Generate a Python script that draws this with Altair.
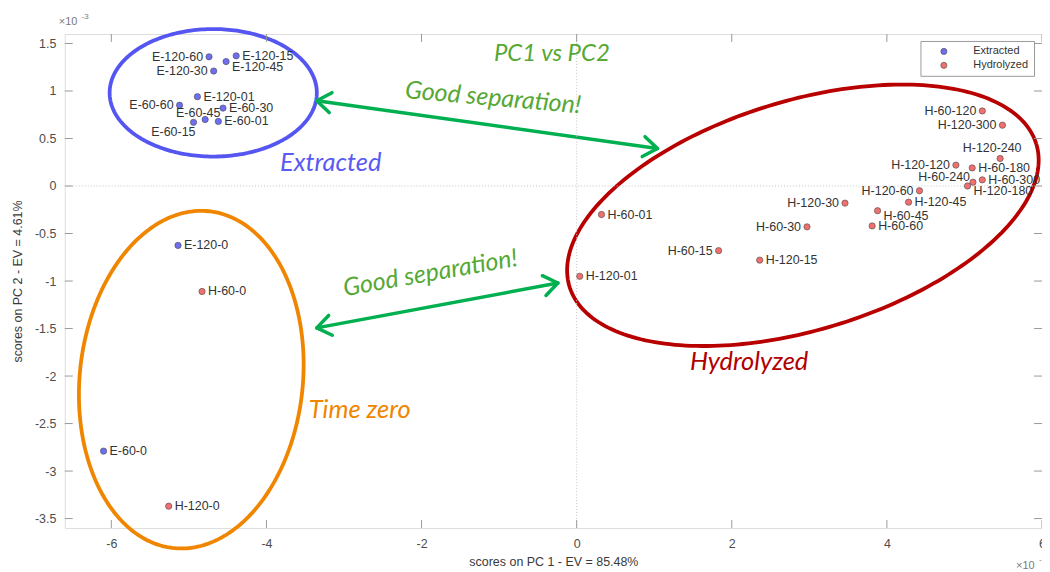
import numpy as np
import pandas as pd
import altair as alt

# ---------------- data (scores ×1e-3) ----------------
samples = ["E-120-60", "E-120-15", "E-120-45", "E-120-30", "E-120-01",
           "E-60-60", "E-60-30", "E-60-45", "E-60-15", "E-60-01",
           "E-120-0", "E-60-0", "H-60-0", "H-120-0",
           "H-120-01", "H-60-01", "H-60-15", "H-120-15", "H-60-30", "H-120-30",
           "H-60-45", "H-60-60", "H-120-45", "H-120-60", "H-120-120", "H-60-180",
           "H-120-180", "H-60-240", "H-60-300", "H-120-240", "H-60-120", "H-120-300"]
groups = (["Extracted"] * 12) + (["Hydrolyzed"] * 20)
groups[12] = "Hydrolyzed"
groups[13] = "Hydrolyzed"
pc1 = [-4.74, -4.39, -4.52, -4.68, -4.89,
       -5.12, -4.56, -4.79, -4.94, -4.62,
       -5.14, -6.10, -4.83, -5.26,
       0.04, 0.32, 1.83, 2.36, 2.97, 3.46,
       3.88, 3.81, 4.28, 4.42, 4.89, 5.10,
       5.04, 5.11, 5.23, 5.46, 5.23, 5.49]
pc2 = [1.36, 1.37, 1.31, 1.21, 0.94,
       0.85, 0.82, 0.70, 0.67, 0.68,
       -0.625, -2.79, -1.11, -3.37,
       -0.95, -0.30, -0.68, -0.78, -0.43, -0.18,
       -0.26, -0.42, -0.17, -0.05, 0.22, 0.19,
       0.00, 0.04, 0.065, 0.29, 0.79, 0.64]
label_side = ["l", "r", "rb", "l", "r",
              "l", "r", "al", "bl", "r",
              "r", "r", "r", "r",
              "r", "r", "l", "r", "l", "l",
              "rb", "r", "r", "l", "l", "r",
              "rb", "la", "r", "a", "l", "l"]

group_names = ["Extracted", "Hydrolyzed"]
x_ticks = [-6, -4, -2, 0, 2, 4, 6]
y_ticks = [1.5, 1, 0.5, 0, -0.5, -1, -1.5, -2, -2.5, -3, -3.5]

df = pd.DataFrame({"sample": samples, "group": groups, "pc1": pc1, "pc2": pc2, "side": label_side})

# ---------------- layout ----------------
W, H = 981, 496
XMIN, XMAX, YMIN, YMAX = -6.6, 6.0, -3.6, 1.6
PXX = W / (XMAX - XMIN)
PXY = H / (YMAX - YMIN)
FONT = "Liberation Sans"
AX_COL = "#9a9a9a"

xscale = alt.Scale(domain=[XMIN, XMAX], nice=False, zero=False)
yscale = alt.Scale(domain=[YMIN, YMAX], nice=False, zero=False)
xaxis = alt.Axis(title="scores on PC 1 - EV = 85.48%", values=x_ticks, labelExpr="datum.value + ''",
                 grid=False, ticks=False, domain=False, labelPadding=10, labelFlush=False,
                 labelFont=FONT, labelFontSize=12.5, labelColor="#4d4d4d",
                 titleFont=FONT, titleFontSize=12.5, titleColor="#3a3a3a", titleFontWeight="normal",
                 titleY=34, titleBaseline="middle")
yaxis = alt.Axis(title="scores on PC 2 - EV = 4.61%", values=y_ticks, labelExpr="datum.value + ''",
                 grid=False, ticks=False, domain=False, labelPadding=9, labelFlush=False,
                 labelFont=FONT, labelFontSize=12.5, labelColor="#4d4d4d",
                 titleFont=FONT, titleFontSize=12.5, titleColor="#3a3a3a", titleFontWeight="normal",
                 titleX=-47, titleY=H / 2, titleBaseline="middle")


def X(f):
    return alt.X(f, type="quantitative", scale=xscale, axis=xaxis)


def Y(f):
    return alt.Y(f, type="quantitative", scale=yscale, axis=yaxis)


layers = []

# ---------------- ellipses (annotation shapes) ----------------
def ellipse(cx, cy, a_px, b_px, phi_deg, color):
    t = np.linspace(0, 2 * np.pi, 240)
    phi = np.deg2rad(phi_deg)
    u, v = a_px * np.cos(t), b_px * np.sin(t)
    dx = u * np.cos(phi) - v * np.sin(phi)
    dy = u * np.sin(phi) + v * np.cos(phi)
    e = pd.DataFrame({"ex": cx + dx / PXX, "ey": cy + dy / PXY, "i": np.arange(len(t))})
    return alt.Chart(e).mark_line(color=color, strokeWidth=3.8, clip=False).encode(
        x=X("ex"), y=Y("ey"), order="i:Q")


layers.append(ellipse(-4.686, 0.981, 104, 64, 0, "#5555f2"))
layers.append(ellipse(-4.969, -2.038, 170, 112, 84, "#f08500"))
layers.append(ellipse(2.917, -0.308, 245, 115, 17, "#b80000"))

# ---------------- arrows ----------------
GREEN = "#00b050"
arrows = pd.DataFrame({"x1": [-3.351, -3.351], "y1": [0.898, -1.493],
                       "x2": [1.042, -0.242], "y2": [0.394, -1.021]})
layers.append(alt.Chart(arrows).mark_rule(color=GREEN, strokeWidth=3.5, strokeCap="round").encode(
    x=X("x1"), y=Y("y1"), x2="x2", y2="y2"))
head_shape = "M -1 -0.72 L 0 0 L -1 0.72"
for hx, hy, ang in [(-3.351, 0.898, 188), (1.042, 0.394, 8), (-3.351, -1.493, 169.5), (-0.242, -1.021, 349.5)]:
    layers.append(alt.Chart(pd.DataFrame({"hx": [hx], "hy": [hy]})).mark_point(
        shape=head_shape, filled=False, size=784, angle=ang, color=GREEN, strokeWidth=3.5,
        strokeCap="round", strokeJoin="round", opacity=1, clip=False).encode(x=X("hx"), y=Y("hy")))

# ---------------- zero lines ----------------
layers.append(alt.Chart(pd.DataFrame({"v": [0]})).mark_rule(color="#c4c4c4", strokeDash=[1, 2], strokeWidth=1).encode(x=X("v")))
layers.append(alt.Chart(pd.DataFrame({"v": [0]})).mark_rule(color="#c4c4c4", strokeDash=[1, 2], strokeWidth=1).encode(y=Y("v")))

# ---------------- inward ticks ----------------
xt = pd.DataFrame({"v": x_ticks})
yt = pd.DataFrame({"v": y_ticks})
TL = 8
layers.append(alt.Chart(xt).mark_rule(color=AX_COL).encode(x=X("v"), y=alt.value(H), y2=alt.value(H - TL)))
layers.append(alt.Chart(xt).mark_rule(color=AX_COL).encode(x=X("v"), y=alt.value(0), y2=alt.value(TL)))
layers.append(alt.Chart(yt).mark_rule(color=AX_COL).encode(y=Y("v"), x=alt.value(0), x2=alt.value(TL)))
layers.append(alt.Chart(yt).mark_rule(color=AX_COL).encode(y=Y("v"), x=alt.value(W), x2=alt.value(W - TL)))

# ---------------- points ----------------
layers.append(alt.Chart(df).mark_circle(size=40, opacity=1, stroke="#4a4a4a", strokeWidth=0.6).encode(
    x=X("pc1"), y=Y("pc2"),
    color=alt.Color("group:N", scale=alt.Scale(domain=group_names, range=["#6e6ef2", "#f07070"]),
                    legend=alt.Legend(title=None, orient="none", legendX=859, legendY=7,
                                      strokeColor="#9a9a9a", fillColor="white", padding=5,
                                      symbolType="circle", symbolSize=38, symbolStrokeColor="#4a4a4a",
                                      symbolStrokeWidth=0.6, symbolOffset=13, labelOffset=24,
                                      labelFont=FONT, labelFontSize=11, labelColor="#333333",
                                      rowPadding=2, cornerRadius=0))))

# ---------------- point labels ----------------
placements = {
    "r": dict(align="left", dx=6, dy=0),
    "l": dict(align="right", dx=-6, dy=0),
    "rb": dict(align="left", dx=6, dy=5),
    "a": dict(align="center", dx=-8, dy=-10),
    "al": dict(align="center", dx=-7, dy=-7),
    "bl": dict(align="right", dx=2, dy=10),
    "la": dict(align="right", dx=-3, dy=-5),
}
for side, p in placements.items():
    sub = df[df["side"] == side]
    layers.append(alt.Chart(sub).mark_text(baseline="middle", font=FONT, fontSize=12.5, color="#333333", **p).encode(
        x=X("pc1"), y=Y("pc2"), text="sample:N"))

# ---------------- annotation texts ----------------
def ann(text, x, y, color, size=25, angle=0):
    return alt.Chart(pd.DataFrame({"ax": [x], "ay": [y]})).mark_text(
        text=text, color=color, fontSize=size, font="Lato", fontStyle="italic",
        angle=angle, baseline="middle", align="center").encode(x=X("ax"), y=Y("ay"))


layers.append(ann("PC1 vs PC2", -0.320, 1.390, "#55a834", 24))
layers.append(ann("Extracted", -3.171, 0.237, "#5a5af2", 25.5))
layers.append(ann("Good separation!", -1.077, 0.929, "#55a834", 25, 5))
layers.append(ann("Good separation!", -1.886, -0.916, "#55a834", 25, 350))
layers.append(ann("Time zero", -2.798, -2.353, "#f08500", 25.5))
layers.append(ann("Hydrolyzed", 2.223, -1.849, "#b00000", 25.5))

# ---------------- ×10^-3 exponent markers ----------------
one = pd.DataFrame({"k": [0]})
for txt, px, py, fs in [("×10", -6, -9, 11), ("-3", 17, -15, 8),
                        ("×10", W - 26, 537, 11), ("-3", W - 3, 530, 8)]:
    layers.append(alt.Chart(one).mark_text(text=txt, align="left", baseline="alphabetic", font=FONT,
                                           fontSize=fs, color="#7a7a7a", clip=False).encode(
        x=alt.value(px), y=alt.value(py)))

chart = alt.layer(*layers).properties(
    width=W, height=H,
    title=alt.Title("sample plot", fontSize=12, fontWeight="bold", font=FONT, color="#000000",
                    offset=11, anchor="middle", frame="group"),
    autosize=alt.AutoSizeParams(type="none"),
    padding={"left": 57, "top": 25, "right": 0, "bottom": 42},
).configure_view(stroke=AX_COL, strokeWidth=1).configure(background="white")

chart.save("out.html", embed_options={"renderer": "svg", "actions": False})
